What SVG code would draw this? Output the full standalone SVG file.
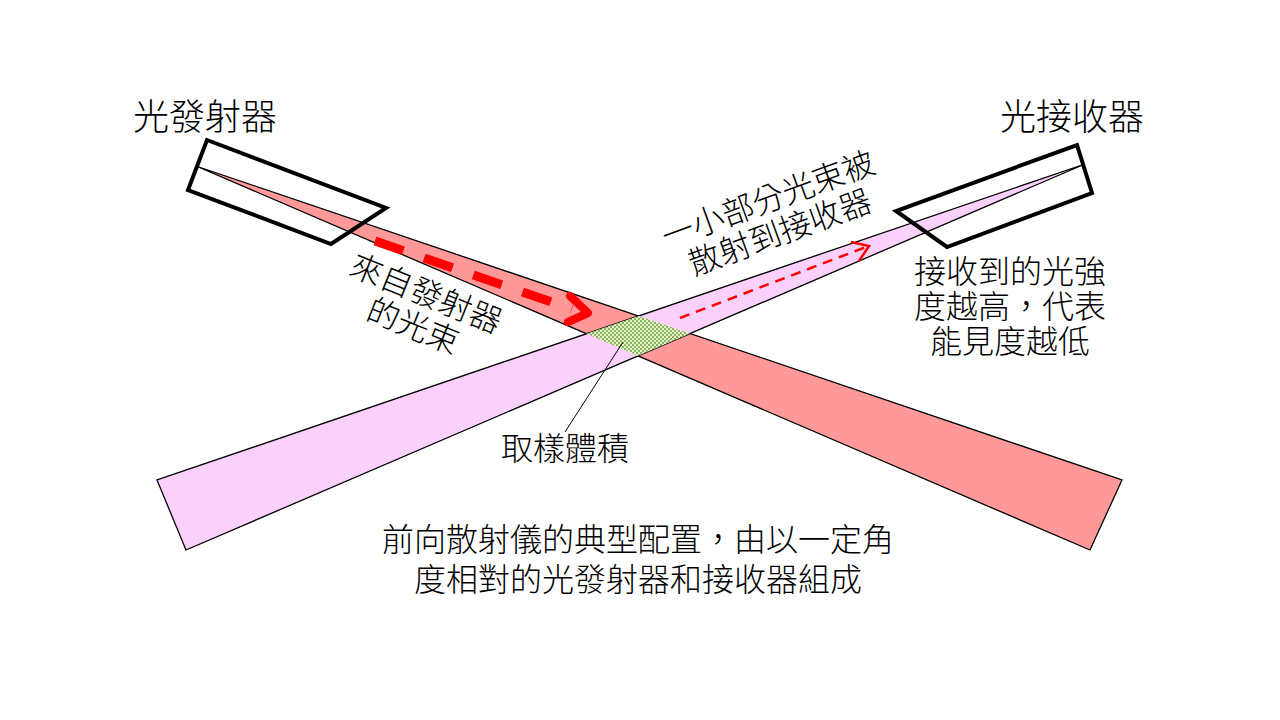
<svg xmlns="http://www.w3.org/2000/svg" width="1280" height="720" viewBox="0 0 1280 720">
<style>
text{font-family:"Noto Sans CJK TC","Noto Sans CJK SC",sans-serif;fill:#000;font-weight:300}
.beam{stroke:#000;stroke-width:1.3}
.box{fill:none;stroke:#000;stroke-width:4;stroke-linejoin:miter}
</style>
<defs>
<pattern id="dots" width="4" height="4" patternUnits="userSpaceOnUse">
<rect width="4" height="4" fill="#e6f2c8"/>
<circle cx="1" cy="1" r="1" fill="#6aa040"/>
<circle cx="3" cy="3" r="1" fill="#6aa040"/>
</pattern>
<clipPath id="cRed"><polygon points="196,166 1122,480 1090,550"/></clipPath>
<clipPath id="cPink"><polygon points="1085,164 157,480 186,550"/></clipPath>
</defs>
<rect width="1280" height="720" fill="#fff"/>
<g id="beam-red"><polygon class="beam" points="196,166 1122,480 1090,550" fill="#ff9999"/></g>
<g id="beam-pink"><polygon class="beam" points="1085,164 157,480 186,550" fill="#fbd0fb"/></g>
<g id="sampling-volume" clip-path="url(#cRed)"><rect x="540" y="280" width="200" height="110" fill="url(#dots)" clip-path="url(#cPink)"/></g>
<g id="emitter">
<polygon class="box" points="207,140 386,208 331,244 188,190"/>
<text x="205" y="130" font-size="36" text-anchor="middle">光發射器</text>
</g>
<g id="receiver">
<polygon class="box" points="1077,145 1092,193 947,247 896,211"/>
<text x="1072" y="130" font-size="36" text-anchor="middle">光接收器</text>
</g>
<g id="connectors">
<line x1="375" y1="241" x2="572" y2="309" stroke="#ff0000" stroke-width="9" stroke-dasharray="30,22"/>
<polyline points="570,296 588,313 568,322" fill="none" stroke="#ff0000" stroke-width="8" stroke-linecap="round" stroke-linejoin="round"/>
<line x1="680" y1="318" x2="866" y2="247" stroke="#ff0000" stroke-width="2.5" stroke-dasharray="10,7"/>
<polyline points="851,242 869,246 859,261" fill="none" stroke="#ff0000" stroke-width="2.5"/>
<line x1="623" y1="342" x2="565" y2="432" stroke="#000" stroke-width="1"/>
</g>
<g id="labels">
<text font-size="32" text-anchor="middle" transform="translate(422,304) rotate(22)"><tspan x="0" y="0">來自發射器</tspan><tspan x="0" y="35">的光束</tspan></text>
<text font-size="32" text-anchor="middle" transform="translate(772,210) rotate(-20)"><tspan x="0" y="0">一小部分光束被</tspan><tspan x="0" y="35">散射到接收器</tspan></text>
<text font-size="32" text-anchor="middle"><tspan x="1010" y="283">接收到的光強</tspan><tspan x="1010" y="318">度越高，代表</tspan><tspan x="1010" y="353">能見度越低</tspan></text>
<text x="565" y="460" font-size="32" text-anchor="middle">取樣體積</text>
<text font-size="32" text-anchor="middle"><tspan x="638" y="551">前向散射儀的典型配置，由以一定角</tspan><tspan x="638" y="591">度相對的光發射器和接收器組成</tspan></text>
</g>
</svg>
